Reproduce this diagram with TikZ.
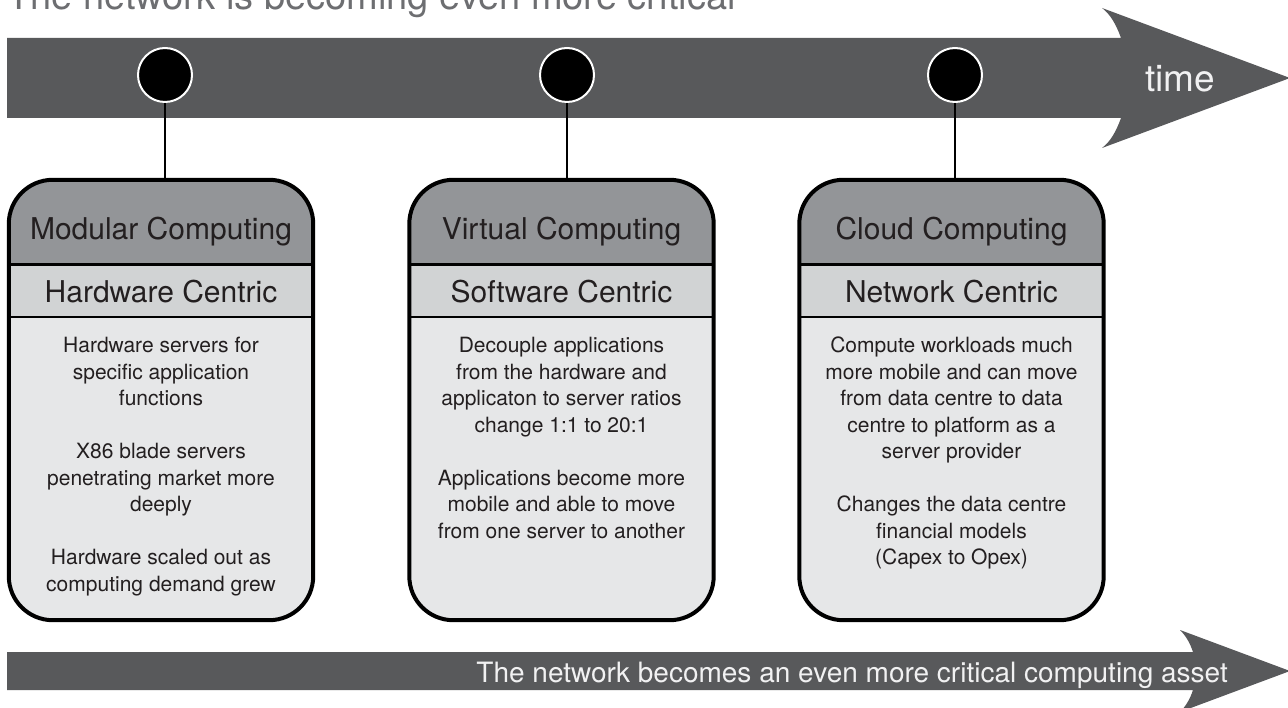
\documentclass[tikz,border=0pt]{standalone}
\usepackage{fontspec}
\setmainfont{TeX Gyre Heros}
\usetikzlibrary{positioning}

\definecolor{barGray}{HTML}{58595B}
\definecolor{headGray}{HTML}{939598}
\definecolor{subGray}{HTML}{D1D3D4}
\definecolor{bodyGray}{HTML}{E6E7E8}
\definecolor{titleGray}{HTML}{6D6E71}
\definecolor{inkDark}{HTML}{231F20}
\definecolor{barText}{HTML}{F1F1F2}

\tikzset{
  dot/.style={circle, fill=black, draw=white, line width=2pt, minimum size=54pt, inner sep=0pt},
  stem/.style={line width=2pt, draw=black},
  card/.style={rectangle, rounded corners=44pt, fill=bodyGray, minimum width=304pt, minimum height=440pt, inner sep=0pt},
  headtext/.style={font=\fontsize{30}{34}\selectfont, text=inkDark, anchor=base, inner sep=0pt},
  subtext/.style={font=\fontsize{30}{34}\selectfont, text=inkDark, anchor=base, inner sep=0pt},
  bodytext/.style={font=\fontsize{21}{26.5}\selectfont, text=inkDark, align=center, anchor=north, inner sep=0pt},
  bartext/.style={text=barText, inner sep=0pt}
}

\begin{document}
\begin{tikzpicture}[x=1pt,y=-1pt]
    \useasboundingbox[fill=white] (0,0) rectangle (1288,708);

    % Title
    \node[anchor=base west, inner sep=0pt, text=titleGray, font=\fontsize{38}{40}\selectfont] (title) at (7,10) {The network is becoming even more critical};

    % Time arrow
    \fill[barGray] (7,38) -- (1121,38) .. controls (1116,24) and (1110,14) .. (1102,8) -- (1290,78) -- (1102,148) .. controls (1110,142) and (1116,132) .. (1121,118) -- (7,118) -- cycle;
    \node[bartext, anchor=base west, font=\fontsize{37}{40}\selectfont] (timelbl) at (1145,92) {time};

    % Milestones
    \node[dot] (t1) at (165,75) {};
    \node[dot] (t2) at (567,75) {};
    \node[dot] (t3) at (955,75) {};

    \coordinate (cut1) at (0,265);
    \coordinate (cut2) at (0,317);

    % Cards
    \foreach \cx/\dt/\name/\head/\sub/\body in {
        161/t1/modular/Modular Computing/Hardware Centric/{Hardware servers for\\specific application\\functions\\[26.5pt]X86 blade servers\\penetrating market more\\deeply\\[26.5pt]Hardware scaled out as\\computing demand grew},
        561.5/t2/virtual/Virtual Computing/Software Centric/{Decouple applications\\from the hardware and\\applicaton to server ratios\\change 1:1 to 20:1\\[26.5pt]Applications become more\\mobile and able to move\\from one server to another},
        951.5/t3/cloud/Cloud Computing/Network Centric/{Compute workloads much\\more mobile and can move\\from data centre to data\\centre to platform as a\\server provider\\[26.5pt]Changes the data centre\\financial models\\(Capex to Opex)}}{
        \node[card] (\name) at (\cx,400) {};
        \begin{scope}
            \clip[rounded corners=44pt] (\name.north west) rectangle (\name.south east);
            \fill[headGray] (\name.north west) rectangle (\name.east |- cut1);
            \fill[subGray] (\name.west |- cut1) rectangle (\name.east |- cut2);
        \end{scope}
        \draw[line width=3pt] (\name.west |- cut1) -- (\name.east |- cut1);
        \draw[line width=2pt] (\name.west |- cut2) -- (\name.east |- cut2);
        \draw[line width=4pt, rounded corners=44pt] (\name.north west) rectangle (\name.south east);
        \node[headtext] (\name-head) at (\cx,240) {\head};
        \node[subtext] (\name-sub) at (\cx,303) {\sub};
        \node[bodytext] (\name-body) at (\cx,337) {\body};
        \draw[stem] (\dt.south) -- (\dt.south |- \name.north);
    }

    % Network arrow
    \fill[barGray] (7,652) -- (1193,652) .. controls (1190,643) and (1186,636) .. (1180,630) -- (1290,671) -- (1180,712) .. controls (1186,706) and (1190,699) .. (1193,690) -- (7,690) -- cycle;
    \node[bartext, anchor=base east, font=\fontsize{28}{30}\selectfont] (asset) at (1228,682) {The network becomes an even more critical computing asset};
\end{tikzpicture}
\end{document}
